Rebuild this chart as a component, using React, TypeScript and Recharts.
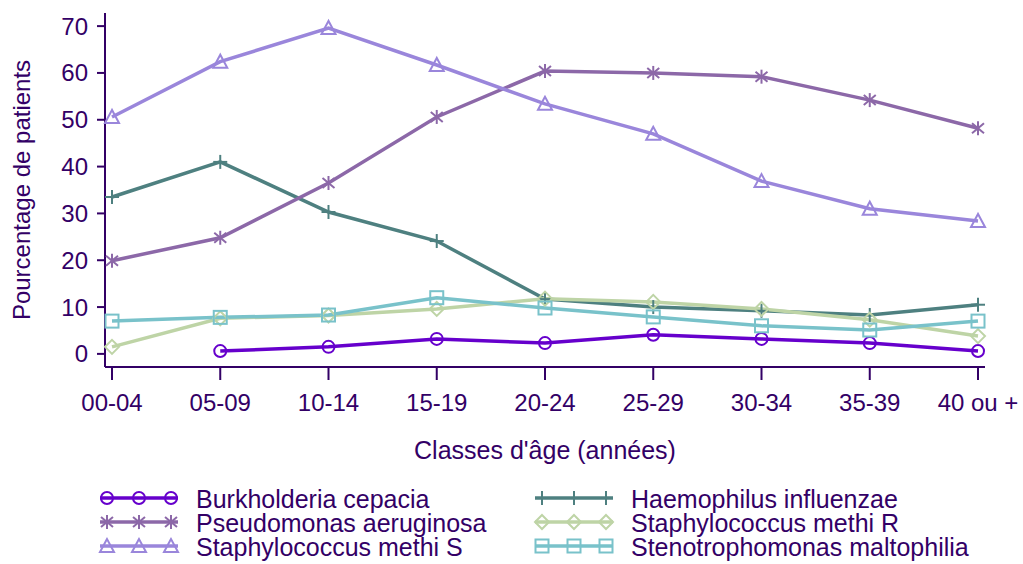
import React from 'react';
import { LineChart, Line, XAxis, YAxis } from 'recharts';

const categories = ['00-04', '05-09', '10-14', '15-19', '20-24', '25-29', '30-34', '35-39', '40 ou +'];
const burkholderia = [null, 0.6, 1.5, 3.2, 2.3, 4.1, 3.2, 2.3, 0.6];
const haemophilus = [33.5, 41.0, 30.3, 24.1, 11.7, 10.0, 9.2, 8.3, 10.5];
const pseudomonas = [19.9, 24.8, 36.5, 50.6, 60.4, 60.0, 59.2, 54.2, 48.2];
const staphR = [1.5, 7.6, 8.2, 9.6, 11.8, 11.1, 9.6, 7.3, 3.8];
const staphS = [50.6, 62.4, 69.6, 61.7, 53.4, 47.0, 36.9, 31.0, 28.4];
const steno = [7.0, 7.8, 8.3, 12.0, 9.8, 7.9, 6.0, 5.1, 7.0];
const yTicks = [0, 10, 20, 30, 40, 50, 60, 70];

const INK = '#330066';
const FONT = '"Liberation Sans", Arial, sans-serif';

type Shape = 'circle' | 'plus' | 'asterisk' | 'diamond' | 'triangle' | 'square';

const series: { key: string; name: string; values: (number | null)[]; color: string; shape: Shape }[] = [
  { key: 'burk', name: 'Burkholderia cepacia', values: burkholderia, color: '#6600CC', shape: 'circle' },
  { key: 'haem', name: 'Haemophilus influenzae', values: haemophilus, color: '#4E8080', shape: 'plus' },
  { key: 'pseud', name: 'Pseudomonas aeruginosa', values: pseudomonas, color: '#8C68A8', shape: 'asterisk' },
  { key: 'staphR', name: 'Staphylococcus methi R', values: staphR, color: '#BED4A6', shape: 'diamond' },
  { key: 'staphS', name: 'Staphylococcus methi S', values: staphS, color: '#9A86DB', shape: 'triangle' },
  { key: 'steno', name: 'Stenotrophomonas maltophilia', values: steno, color: '#79C2CA', shape: 'square' },
];

// legend is laid out in two columns like the original
const legendCols = [
  ['burk', 'pseud', 'staphS'],
  ['haem', 'staphR', 'steno'],
];

const data = categories.map((cat, i) => {
  const row: Record<string, string | number | null> = { cat };
  series.forEach((s) => {
    row[s.key] = s.values[i];
  });
  return row;
});

function Marker({ shape, cx, cy, color }: { shape: Shape; cx: number; cy: number; color: string }) {
  const p = { fill: 'none', stroke: color, strokeWidth: 2 };
  switch (shape) {
    case 'circle':
      return <circle cx={cx} cy={cy} r={6} {...p} />;
    case 'square':
      return <rect x={cx - 6.5} y={cy - 6.5} width={13} height={13} {...p} />;
    case 'triangle':
      return <polygon points={`${cx},${cy - 7} ${cx - 7},${cy + 6} ${cx + 7},${cy + 6}`} {...p} />;
    case 'diamond':
      return <polygon points={`${cx},${cy - 7} ${cx + 7},${cy} ${cx},${cy + 7} ${cx - 7},${cy}`} {...p} />;
    case 'plus':
      return (
        <g {...p}>
          <line x1={cx} y1={cy - 7} x2={cx} y2={cy + 7} />
          <line x1={cx - 7} y1={cy} x2={cx + 7} y2={cy} />
        </g>
      );
    case 'asterisk':
      return (
        <g {...p}>
          <line x1={cx} y1={cy - 7} x2={cx} y2={cy + 7} />
          <line x1={cx - 6} y1={cy - 5} x2={cx + 6} y2={cy + 5} />
          <line x1={cx - 6} y1={cy + 5} x2={cx + 6} y2={cy - 5} />
        </g>
      );
  }
  return null;
}

function ChartLegend() {
  return (
    <svg width={1023} height={564} style={{ position: 'absolute', left: 0, top: 0, pointerEvents: 'none' }}>
      {legendCols.map((col, ci) =>
        col.map((k, ri) => {
          const s = series.find((x) => x.key === k)!;
          const x0 = ci === 0 ? 100 : 535;
          const y = 498 + ri * 24;
          return (
            <g key={k}>
              <line x1={x0} y1={y} x2={x0 + 78} y2={y} stroke={s.color} strokeWidth={3.5} />
              {[7, 39, 71].map((dx) => (
                <Marker key={dx} shape={s.shape} cx={x0 + dx} cy={y} color={s.color} />
              ))}
              <text x={x0 + 96} y={y + 10} fill={INK} fontSize={25} fontFamily={FONT}>
                {s.name}
              </text>
            </g>
          );
        })
      )}
    </svg>
  );
}

export default function App() {
  return (
    <div style={{ position: 'absolute', left: 0, top: 0, width: 1023, height: 564, background: '#fff' }}>
      <LineChart width={1023} height={564} data={data} margin={{ top: 13, right: 38, bottom: 97, left: 0 }}>
        <XAxis
          dataKey="cat"
          interval={0}
          height={100}
          padding={{ left: 7, right: 7 }}
          tickSize={13}
          tickMargin={14}
          axisLine={{ stroke: INK, strokeWidth: 2 }}
          tickLine={{ stroke: INK, strokeWidth: 2 }}
          tick={{ fill: INK, fontSize: 24, fontFamily: FONT }}
          label={{ value: "Classes d'âge (années)", position: 'insideBottom', offset: 8, fill: INK, fontSize: 25, fontFamily: FONT }}
        />
        <YAxis
          width={105}
          domain={[-2.8, 72.8]}
          ticks={yTicks}
          interval={0}
          tickSize={8}
          tickMargin={9}
          axisLine={{ stroke: INK, strokeWidth: 2 }}
          tickLine={{ stroke: INK, strokeWidth: 2 }}
          tick={{ fill: INK, fontSize: 24, fontFamily: FONT }}
          label={{
            value: 'Pourcentage de patients',
            content: () => (
              <text
                transform="translate(30,190) rotate(-90)"
                textAnchor="middle"
                fill={INK}
                fontSize={24}
                fontFamily={FONT}
              >
                Pourcentage de patients
              </text>
            ),
          }}
        />
        {series.map((s) => (
          <Line
            key={s.key}
            dataKey={s.key}
            name={s.name}
            stroke={s.color}
            strokeWidth={3.5}
            isAnimationActive={false}
            connectNulls={false}
            dot={(props: any) => {
              const { cx, cy, index } = props;
              if (cx == null || cy == null || props.value == null) return <g key={`${s.key}-${index}`} />;
              return (
                <g key={`${s.key}-${index}`}>
                  <Marker shape={s.shape} cx={cx} cy={cy} color={s.color} />
                </g>
              );
            }}
            activeDot={false}
          />
        ))}
      </LineChart>
      <ChartLegend />
    </div>
  );
}
